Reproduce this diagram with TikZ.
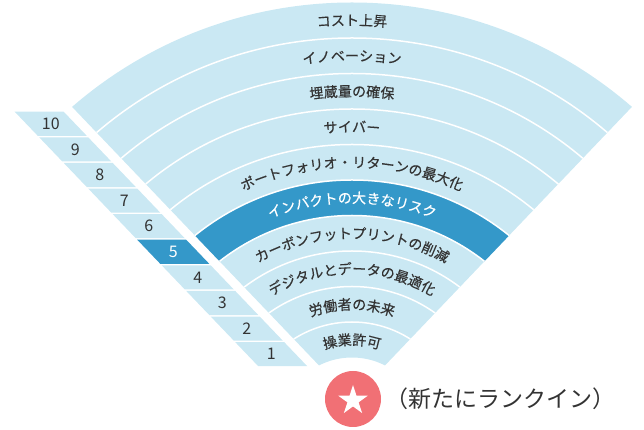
\documentclass[tikz,border=0pt]{standalone}
\usepackage{fontspec}
\newfontfamily\jpf[FakeBold=0.5]{Noto Sans CJK JP}
\newfontfamily\jpl{Noto Sans CJK JP}
\usetikzlibrary{decorations.text}
\definecolor{bandlight}{RGB}{202,232,243}
\definecolor{banddark}{RGB}{52,152,201}
\definecolor{inktext}{RGB}{51,51,51}
\definecolor{newmark}{RGB}{241,112,117}
\newcommand\bandlabel[3]{%
  \pgfmathsetmacro\rb{427.5-35.5*(#1+0.5)-5.3}%
  \path[decorate, decoration={text along path, text align=center, text color=#2,
     text={|\jpf\fontsize{14}{14}\selectfont|#3}}]
     (O) ++(160:\rb) arc[start angle=160, end angle=20, radius=\rb];%
}
\begin{document}
\begin{tikzpicture}[x=1pt,y=1pt,
  sepline/.style={draw=white, line width=1.5pt},
  numlabel/.style={font=\jpl\fontsize{16}{16}\selectfont, inner sep=0pt}]
\useasboundingbox (0,0) rectangle (644,430);
\coordinate (O) at (352,0);
% fan
\begin{scope}
  \clip (352,30) -- (-221,630) -- (925,630) -- cycle;
  \fill[bandlight, even odd rule] (O) circle[radius=427.5] (O) circle[radius=72.5];
  \fill[banddark, even odd rule] (O) circle[radius=250] (O) circle[radius=214.5];
  \foreach \k in {1,...,9}{\draw[sepline] (O) circle[radius={427.5-35.5*\k}];}
\end{scope}
% band labels
\bandlabel{0}{inktext}{コスト上昇}
\bandlabel{1}{inktext}{イノベーション}
\bandlabel{2}{inktext}{埋蔵量の確保}
\bandlabel{3}{inktext}{サイバー}
\bandlabel{4}{inktext}{ポートフォリオ・リターンの最大化}
\bandlabel{5}{white}{インパクトの大きなリスク}
\bandlabel{6}{inktext}{カーボンフットプリントの削減}
\bandlabel{7}{inktext}{デジタルとデータの最適化}
\bandlabel{8}{inktext}{労働者の未来}
\bandlabel{9}{inktext}{操業許可}
% ladder
\foreach \i in {1,...,10}{
  \pgfmathsetmacro\yb{63+25.6*(\i-1)+0.75}
  \pgfmathsetmacro\yt{63+25.6*\i-0.75}
  \pgfmathsetmacro\xrb{308-(\yb-63)*0.957}
  \pgfmathsetmacro\xrt{308-(\yt-63)*0.957}
  \pgfmathsetmacro\yc{63+25.6*(\i-0.5)}
  \pgfmathsetmacro\xc{308-(\yc-63)*0.957-24.5}
  \ifnum\i=5
    \fill[banddark] (\xrb-49,\yb) -- (\xrb,\yb) -- (\xrt,\yt) -- (\xrt-49,\yt) -- cycle;
    \node[numlabel, text=white] (row\i) at (\xc,\yc) {\i};
  \else
    \fill[bandlight] (\xrb-49,\yb) -- (\xrb,\yb) -- (\xrt,\yt) -- (\xrt-49,\yt) -- cycle;
    \node[numlabel, text=inktext] (row\i) at (\xc,\yc) {\i};
  \fi
}
% new entry mark
\node[circle, fill=newmark, minimum size=56pt, inner sep=0pt] (mark) at (353,31) {};
\fill[white, shift={(353,29.5)}] (90:15.5) -- (126:5.9) -- (162:15.5) -- (198:5.9)
  -- (234:15.5) -- (270:5.9) -- (306:15.5) -- (342:5.9) -- (18:15.5) -- (54:5.9) -- cycle;
\node[font=\jpl\fontsize{23}{23}\selectfont, text=inktext] (legend) at (500,31) {（新たにランクイン）};
\end{tikzpicture}
\end{document}
